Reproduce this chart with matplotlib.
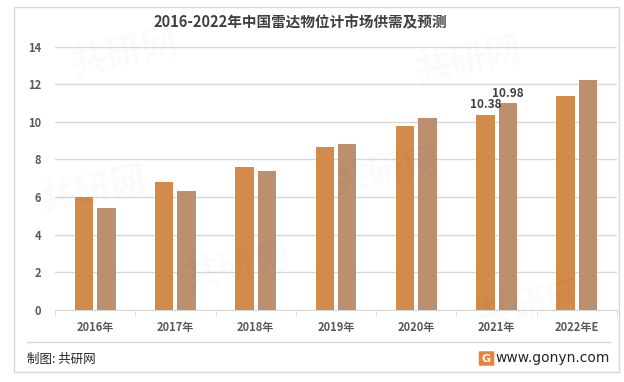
import matplotlib
matplotlib.use("Agg")
import matplotlib.pyplot as plt
import numpy as np
from matplotlib.patches import Rectangle, FancyBboxPatch

plt.rcParams['font.family'] = ['Noto Sans CJK SC', 'DejaVu Sans']

categories = ['2016年', '2017年', '2018年', '2019年', '2020年', '2021年', '2022年E']
supply = [5.98, 6.78, 7.58, 8.64, 9.78, 10.38, 11.37]
demand = [5.40, 6.30, 7.37, 8.82, 10.19, 10.98, 12.20]
yticks = [0, 2, 4, 6, 8, 10, 12, 14]
title = '2016-2022年中国雷达物位计市场供需及预测'

W, H = 624, 382
fig = plt.figure(figsize=(W / 100, H / 100), dpi=100)
fig.patch.set_facecolor('white')

# outer border
fig.patches.append(Rectangle((14 / W, (H - 372) / H), (619 - 14) / W, (372 - 7) / H,
                             transform=fig.transFigure, fill=False,
                             edgecolor='#d9d9d9', linewidth=1))

# faint watermarks
for (wx, wy) in [(0.2, 0.86), (0.75, 0.84), (0.15, 0.5), (0.62, 0.55),
                 (0.38, 0.3), (0.85, 0.2)]:
    fig.text(wx, wy, '共研网', fontsize=26, color='#000000', alpha=0.02,
             rotation=12, ha='center', va='center', fontweight='bold')

ax = fig.add_axes([55 / W, (H - 310) / H, (617 - 55) / W, (310 - 46.5) / H])
ax.set_facecolor('none')
x = np.arange(len(categories))
bw = 0.23
gap = 0.025
ax.bar(x - bw / 2 - gap, supply, width=bw, color='#D38B4C', zorder=3)
ax.bar(x + bw / 2 + gap, demand, width=bw, color='#BC8F6F', zorder=3)

ax.set_xlim(-0.5, len(categories) - 0.5)
ax.set_ylim(0, 14)
ax.set_yticks(yticks)
ax.set_yticklabels([str(t) for t in yticks], fontsize=8, color='#595959', fontweight='bold')
ax.yaxis.grid(True, color='#d9d9d9', linewidth=1, zorder=0)
ax.set_axisbelow(True)
ax.tick_params(axis='y', length=0, pad=10)

ax.set_xticks(x)
ax.set_xticklabels(categories, fontsize=8, color='#595959', fontweight='bold')
ax.tick_params(axis='x', length=0, pad=8)
ax.set_xticks(np.arange(-0.5, len(categories), 1), minor=True)
ax.tick_params(axis='x', which='minor', length=4, color='#d9d9d9')

for s in ['top', 'right', 'left']:
    ax.spines[s].set_visible(False)
ax.spines['bottom'].set_color('#d9d9d9')

# data labels for 2021
i = 5
ax.text(x[i] - bw / 2 - gap, supply[i] + 0.2, f'{supply[i]:.2f}', ha='center', va='bottom',
        fontsize=8.5, fontweight='bold', color='#404040')
ax.text(x[i] + bw / 2 + gap, demand[i] + 0.2, f'{demand[i]:.2f}', ha='center', va='bottom',
        fontsize=8.5, fontweight='bold', color='#404040')

fig.text(300 / W, 1 - 22 / H, title, ha='center', va='center', fontsize=10.5,
         fontweight='bold', color='#404040')

# separator line
fig.add_artist(plt.Line2D([27 / W, 610 / W], [1 - 342 / H, 1 - 342 / H],
                          color='#d9d9d9', linewidth=1, transform=fig.transFigure))
fig.text(27 / W, 1 - 359 / H, '制图: 共研网', ha='left', va='center', fontsize=9, color='#262626')
fig.text(610 / W, 1 - 358 / H, 'www.gonyn.com', ha='right', va='center', fontsize=10,
         color='#262626', family=['DejaVu Sans'])
fig.patches.append(FancyBboxPatch((480 / W, 1 - 365 / H), 13 / W, 13 / H,
                                  boxstyle='round,pad=0.002', transform=fig.transFigure,
                                  facecolor='#F07F3C', edgecolor='none'))
fig.text(486.5 / W, 1 - 358.5 / H, 'G', ha='center', va='center', fontsize=8,
         color='white', fontweight='bold', family=['DejaVu Sans'])

fig.savefig('out.png', dpi=100, facecolor='white')
